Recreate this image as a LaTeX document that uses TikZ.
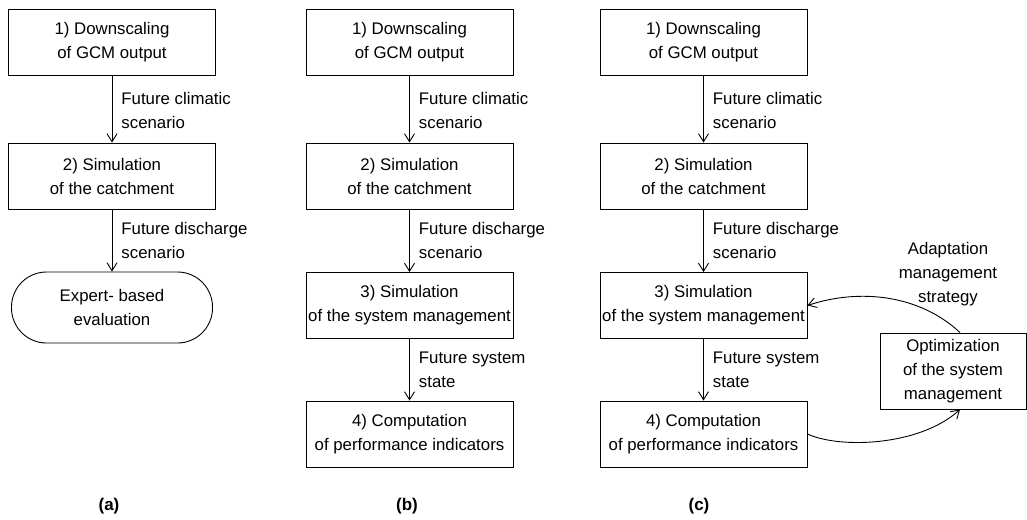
\documentclass[tikz,border=0pt]{standalone}
\usepackage{fontspec}
\setmainfont{Liberation Sans}
\usetikzlibrary{arrows.meta,calc}
\begin{document}
\begin{tikzpicture}[x=1pt,y=-1pt,line width=0.9pt,
  txt/.style={font=\fontsize{16.8}{24}\selectfont},
  box/.style={txt,draw,rectangle,minimum width=207pt,minimum height=66pt,align=center,inner sep=0pt},
  oval/.style={txt,draw,rectangle,rounded corners=35pt,minimum width=201pt,minimum height=71pt,align=center,inner sep=0pt},
  optbox/.style={txt,draw,rectangle,minimum width=146pt,minimum height=76pt,align=center,inner sep=0pt},
  lbl/.style={txt,anchor=west,xshift=9pt,align=left,inner sep=0pt},
  captxt/.style={font=\fontsize{17}{20}\selectfont\bfseries},
  arr/.style={-{Straight Barb[length=8pt,width=10pt,line width=0.9pt]}}]
\useasboundingbox (0,0) rectangle (1027,519);
% column (a)
\node[box] (a1) at (112,42) {1) Downscaling\\of GCM output};
\node[box] (a2) at (112,176) {2) Simulation\\of the catchment};
\node[oval] (a3) at (112,307.5) {Expert- based\\evaluation};
\draw[arr] (a1) -- (a2) node[lbl,midway,yshift=-1.5pt] {Future climatic\\scenario};
\draw[arr] (a2) -- (a3) node[lbl,midway] {Future discharge\\scenario};
\node[captxt] (capa) at (109,506) {(a)};
% column (b)
\node[box] (b1) at (409.5,42) {1) Downscaling\\of GCM output};
\node[box] (b2) at (409.5,176) {2) Simulation\\of the catchment};
\node[box] (b3) at (409.5,305.5) {3) Simulation\\of the system management};
\node[box] (b4) at (409.5,434) {4) Computation\\of performance indicators};
\draw[arr] (b1) -- (b2) node[lbl,midway,yshift=-1.5pt] {Future climatic\\scenario};
\draw[arr] (b2) -- (b3) node[lbl,midway] {Future discharge\\scenario};
\draw[arr] (b3) -- (b4) node[lbl,midway] {Future system\\state};
\node[captxt] (capb) at (407,506) {(b)};
% column (c)
\node[box] (c1) at (703.5,42) {1) Downscaling\\of GCM output};
\node[box] (c2) at (703.5,176) {2) Simulation\\of the catchment};
\node[box] (c3) at (703.5,305.5) {3) Simulation\\of the system management};
\node[box] (c4) at (703.5,434) {4) Computation\\of performance indicators};
\draw[arr] (c1) -- (c2) node[lbl,midway,yshift=-1.5pt] {Future climatic\\scenario};
\draw[arr] (c2) -- (c3) node[lbl,midway] {Future discharge\\scenario};
\draw[arr] (c3) -- (c4) node[lbl,midway] {Future system\\state};
\node[captxt] (capc) at (699,506) {(c)};
\node[optbox] (opt) at (953,371) {Optimization\\of the system\\management};
\node[txt,align=center,inner sep=0pt] (adapt) at (948,274) {Adaptation\\management\\strategy};
\coordinate (optt) at ($(opt.north)+(7,0)$);
\coordinate (optb) at ($(opt.south)+(7,0)$);
\draw[arr] (optt) .. controls (920,295) and (860,288) .. (c3.east);
\draw[arr] (c4.east) .. controls (840,449) and (920,446) .. (optb);
\end{tikzpicture}
\end{document}
